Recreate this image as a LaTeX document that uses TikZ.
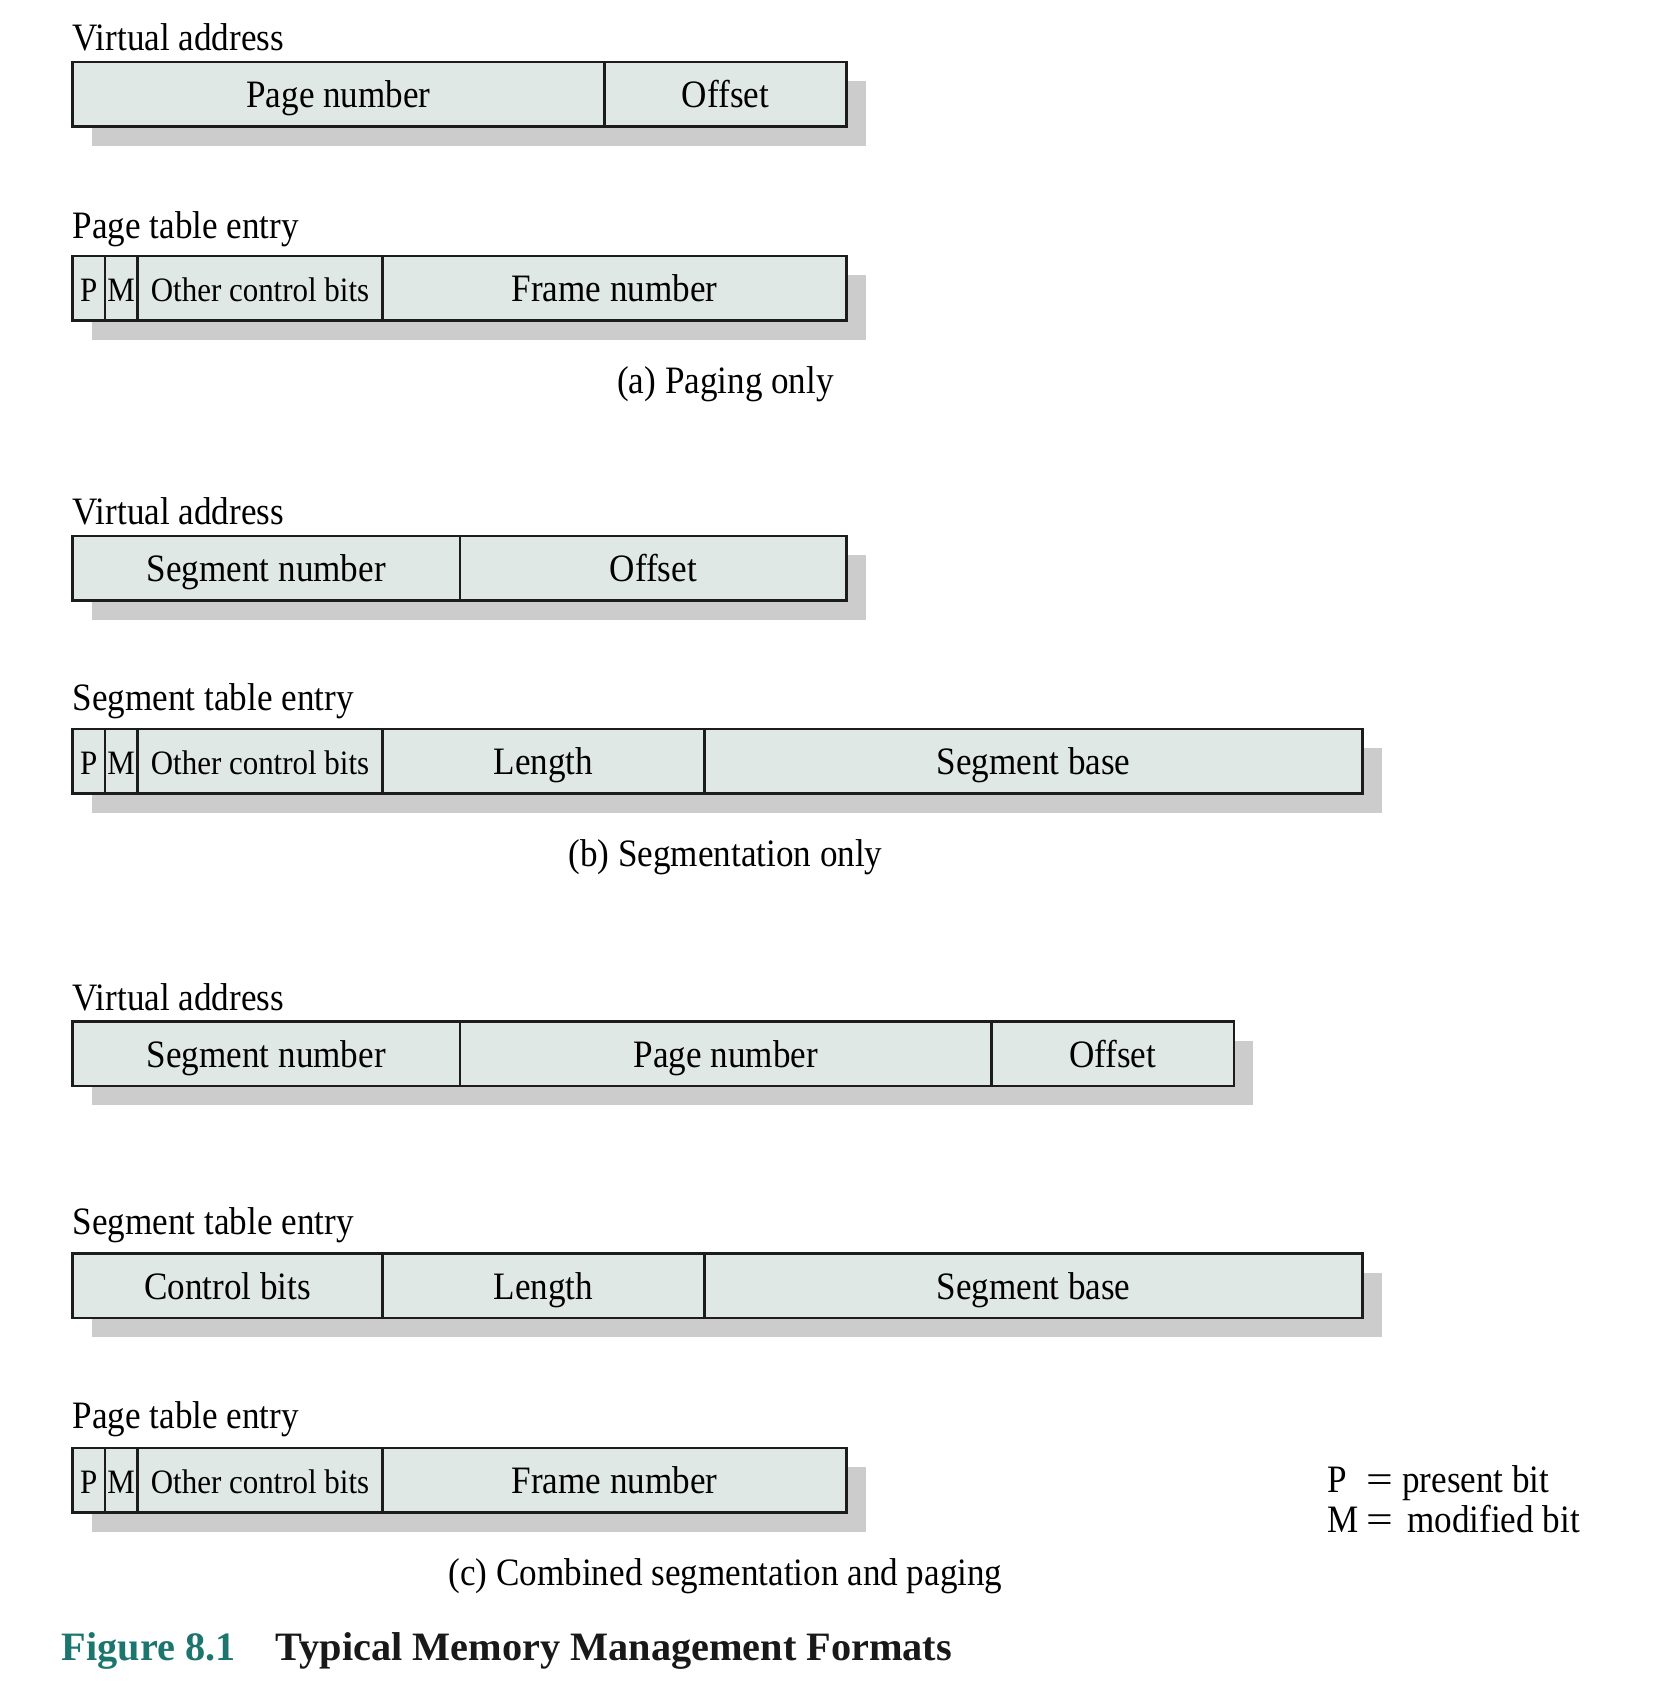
\documentclass[tikz,border=0pt]{standalone}
\usepackage{fontspec}
\usepackage{graphicx}
\setmainfont{Liberation Serif}
\newfontfamily\bodyfam[FakeStretch=0.905]{Liberation Serif}
\newcommand\figbody{\bodyfam\fontsize{38.8}{44}\selectfont}
\newcommand\fignarrow{\bodyfam\fontsize{34.2}{40}\selectfont}
\newcommand\wideeq{\scalebox{1.35}[1]{=}}
\usetikzlibrary{backgrounds}

\definecolor{cellfill}{HTML}{DFE8E5}
\definecolor{shadegray}{HTML}{CCCCCC}
\definecolor{rulegray}{HTML}{1C1C1C}
\definecolor{figteal}{HTML}{1D766D}

\begin{document}
\begin{tikzpicture}[x=1pt,y=-1pt,
  cell/.style={draw=rulegray, line width=2.2pt, fill=cellfill, anchor=north west,
    minimum height=64.5pt, inner sep=0pt, outer sep=0pt,
    text height=28.5pt, text depth=1.9pt, font=\figbody},
  narrow/.style={font=\fignarrow},
  fieldlabel/.style={anchor=base west, inner sep=0pt, font=\figbody},
  caption/.style={anchor=base, inner sep=0pt, font=\figbody},
  shadow/.style={fill=shadegray},
  titletext/.style={anchor=base west, inner sep=0pt, font=\bfseries\fontsize{40.3}{46}\selectfont}]
\useasboundingbox (0,0) rectangle (1680,1684);

% ---------- (a) Paging only ----------
\node[fieldlabel] (la1) at (72.5,50.5) {Virtual address};
\node[cell, minimum width=532pt] (a1p) at (72.5,62) {Page number};
\node[cell, minimum width=242pt] (a1o) at (a1p.north east) {Offset};

\node[fieldlabel] (la2) at (72.5,238) {Page table entry};
\node[cell, narrow, minimum width=32.5pt] (a2p) at (72.5,256) {P};
\node[cell, narrow, minimum width=32.5pt] (a2m) at (a2p.north east) {M};
\node[cell, narrow, minimum width=245pt] (a2c) at (a2m.north east) {Other control bits};
\node[cell, minimum width=464pt] (a2f) at (a2c.north east) {Frame number};

\node[caption] (capa) at (725.5,393) {(a) Paging only};

% ---------- (b) Segmentation only ----------
\node[fieldlabel] (lb1) at (72.5,524.5) {Virtual address};
\node[cell, minimum width=387.5pt] (b1s) at (72.5,536) {Segment number};
\node[cell, minimum width=386.5pt] (b1o) at (b1s.north east) {Offset};

\node[fieldlabel] (lb2) at (72.5,710) {Segment table entry};
\node[cell, narrow, minimum width=32.5pt] (b2p) at (72.5,729) {P};
\node[cell, narrow, minimum width=32.5pt] (b2m) at (b2p.north east) {M};
\node[cell, narrow, minimum width=245pt] (b2c) at (b2m.north east) {Other control bits};
\node[cell, minimum width=322pt] (b2l) at (b2c.north east) {Length};
\node[cell, minimum width=658pt] (b2b) at (b2l.north east) {Segment base};

\node[caption] (capb) at (725.5,866.5) {(b) Segmentation only};

% ---------- (c) Combined segmentation and paging ----------
\node[fieldlabel] (lc1) at (72.5,1010) {Virtual address};
\node[cell, minimum width=387.5pt] (c1s) at (72.5,1021.5) {Segment number};
\node[cell, minimum width=531.5pt] (c1p) at (c1s.north east) {Page number};
\node[cell, minimum width=242.5pt] (c1o) at (c1p.north east) {Offset};

\node[fieldlabel] (lc2) at (72.5,1234.5) {Segment table entry};
\node[cell, minimum width=310pt] (c2c) at (72.5,1253.5) {Control bits};
\node[cell, minimum width=322pt] (c2l) at (c2c.north east) {Length};
\node[cell, minimum width=658pt] (c2b) at (c2l.north east) {Segment base};

\node[fieldlabel] (lc3) at (72.5,1428) {Page table entry};
\node[cell, narrow, minimum width=32.5pt] (c3p) at (72.5,1448) {P};
\node[cell, narrow, minimum width=32.5pt] (c3m) at (c3p.north east) {M};
\node[cell, narrow, minimum width=245pt] (c3c) at (c3m.north east) {Other control bits};
\node[cell, minimum width=464pt] (c3f) at (c3c.north east) {Frame number};

\node[caption] (capc) at (725.5,1585.5) {(c) Combined segmentation and paging};

% legend
\node[fieldlabel] (legp) at (1327,1492) {\makebox[39pt][l]{P}\makebox[36pt][l]{\wideeq}present bit};
\node[fieldlabel] (legm) at (1327,1532) {\makebox[39pt][l]{M}\makebox[41pt][l]{\wideeq}modified bit};

% figure title
\node[titletext, text=figteal] (fignum) at (61.5,1660) {Figure 8.1};
\node[titletext, text=black!90] (figtitle) at (275.5,1660) {Typical Memory Management Formats};

% drop shadows behind each record
\begin{scope}[on background layer]
  \foreach \first/\last in {a1p/a1o, a2p/a2f, b1s/b1o, b2p/b2b, c1s/c1o, c2c/c2b, c3p/c3f}
    \fill[shadow] ([shift={(19,19)}]\first.north west) rectangle ([shift={(19,19)}]\last.south east);
\end{scope}
\end{tikzpicture}
\end{document}
